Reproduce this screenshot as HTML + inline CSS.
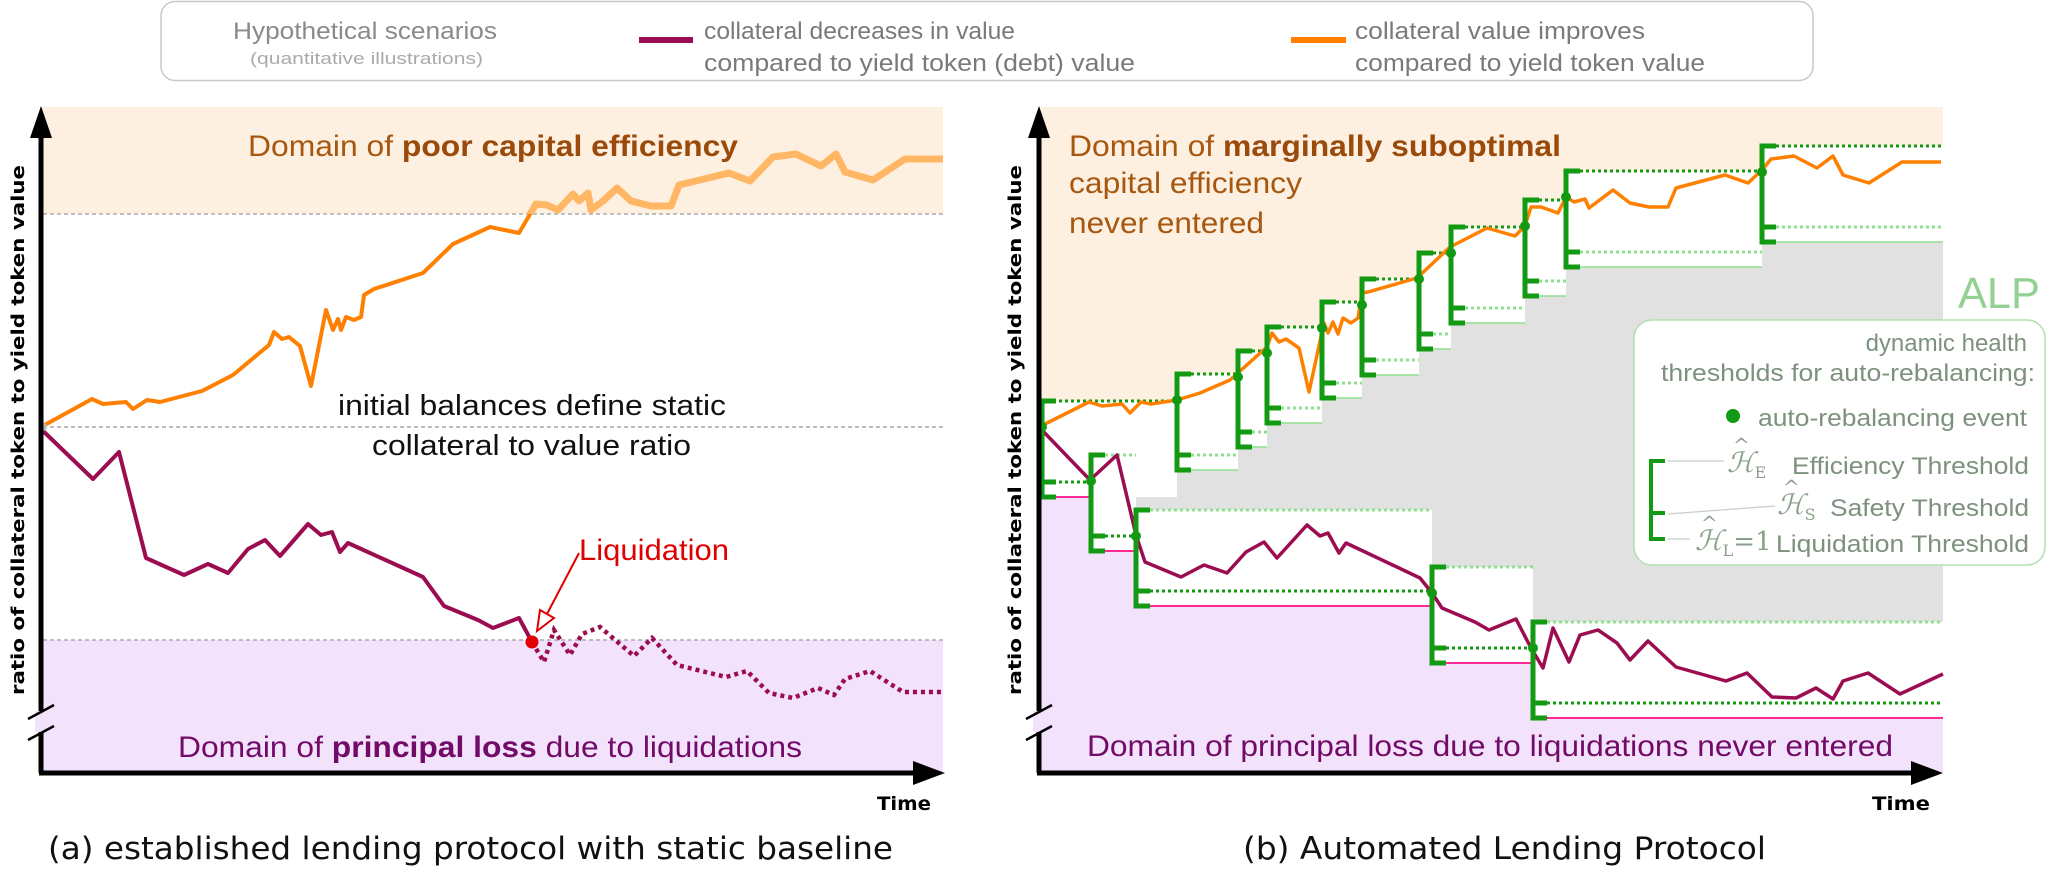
<!DOCTYPE html>
<html>
<head>
<meta charset="utf-8">
<style>
html,body{margin:0;padding:0;background:#fff;}
svg{display:block;}
text{font-family:"Liberation Sans","DejaVu Sans",sans-serif;}
.cap{font-family:"DejaVu Sans","Liberation Sans",sans-serif;}
.ylab{font-family:"DejaVu Sans","Liberation Sans",sans-serif;font-weight:bold;}
.math{font-family:"DejaVu Serif","Liberation Serif",serif;}
</style>
</head>
<body>
<svg id="fig" xmlns="http://www.w3.org/2000/svg" width="2048" height="875" viewBox="0 0 2048 875">
  <g id="layerL"></g>
  <g id="layerR"></g>

  <!-- top legend -->
  <g>
    <rect x="161" y="1.5" width="1652" height="79" rx="14" fill="#fff" stroke="#c8c8c8" stroke-width="1.5"/>
    <text x="233" y="39" font-size="24" fill="#8a8a8a" textLength="264" lengthAdjust="spacingAndGlyphs">Hypothetical scenarios</text>
    <text x="250" y="64" font-size="17" fill="#aaaaaa" textLength="233" lengthAdjust="spacingAndGlyphs">(quantitative illustrations)</text>
    <line x1="639" y1="40" x2="693" y2="40" stroke="#9b0c50" stroke-width="6"/>
    <text x="704" y="39" font-size="24" fill="#7a7a7a" textLength="311" lengthAdjust="spacingAndGlyphs">collateral decreases in value</text>
    <text x="704" y="71" font-size="24" fill="#7a7a7a" textLength="431" lengthAdjust="spacingAndGlyphs">compared to yield token (debt) value</text>
    <line x1="1291" y1="40" x2="1346" y2="40" stroke="#ff8000" stroke-width="6"/>
    <text x="1355" y="39" font-size="24" fill="#7a7a7a" textLength="290" lengthAdjust="spacingAndGlyphs">collateral value improves</text>
    <text x="1355" y="71" font-size="24" fill="#7a7a7a" textLength="350" lengthAdjust="spacingAndGlyphs">compared to yield token value</text>
  </g>

  <!-- captions -->
  <text class="cap" x="48" y="859" font-size="31" fill="#111" textLength="845" lengthAdjust="spacingAndGlyphs">(a) established lending protocol with static baseline</text>
  <text class="cap" x="1243" y="859" font-size="31" fill="#111" textLength="523" lengthAdjust="spacingAndGlyphs">(b) Automated Lending Protocol</text>
</svg>

<script>
// ---------- data ----------
// Panel (a): static baseline
const orangeLeftT = [0,5.1,6.2,8.5,9.2,10.6,11.9,16.1,19.2,22.8,23.3,24.1,24.8,25.9,27.0,28.5,29.2,29.7,30.0,30.5,31.3,32.0,32.3,33.3,38.2,41.2,44.9,47.8,49.5,50.6,51.7,53.2,53.8,54.7,55.0,56.2,57.6,59.0,61.0,63.0,63.8,68.8,70.9,73.2,75.5,78.0,79.5,80.4,83.2,86.4,90.2];
const orangeLeftV = [34.6,37.4,36.9,37.1,36.4,37.3,37.1,38.2,39.8,42.8,44.1,43.4,43.6,42.7,38.7,46.3,44.3,45.4,44.3,45.6,45.3,45.6,47.8,48.4,50.0,52.9,54.6,54.0,56.9,56.8,56.3,57.9,57.2,58.0,56.3,57.2,58.5,57.2,56.7,56.7,58.8,60.0,59.2,61.6,61.9,60.7,61.9,60.1,59.3,61.4,61.4];
const purpleLeftT = [0,5.2,7.8,10.5,14.3,16.7,18.7,20.7,22.4,23.9,26.7,28.0,29.1,29.9,30.7,38.2,40.3,43.7,45.2,47.8,49.1];
const purpleLeftV = [34.4,29.4,32.1,21.5,19.8,20.9,20.0,22.4,23.3,21.7,24.9,23.8,24.1,22.1,23.0,19.6,16.7,15.3,14.5,15.5,13.1];
const purpleLeftDottedT = [49.1,50.3,51.3,52.9,54.1,55.9,59.3,61.1,63.6,68.5,70.6,72.8,75.2,77.7,79.3,80.4,82.9,86.2,90.2];
const purpleLeftDottedV = [13.1,11.1,14.3,11.8,13.9,14.6,11.7,13.5,10.8,9.6,10.2,8.0,7.5,8.5,7.8,9.4,10.2,8.1,8.1];
const staticLevels = [55.9,34.6,13.3]; // efficiency, initial ratio, liquidation

// Panel (b): ALP
const orangeRightT = [0,5.0,6.3,8.3,9.1,10.2,11.2,13.8,16.1,19.1,22.8,23.3,24.0,24.7,26.0,27.0,28.5,28.9,29.4,29.9,30.4,31.2,31.9,32.3,32.9,37.8,41.1,44.8,47.6,48.6,49.2,50.2,51.9,52.7,53.5,54.6,55.0,57.4,59.1,61.0,62.9,63.7,68.6,70.9,72.3,73.2,75.5,77.8,79.4,80.4,83.0,86.3,90.2];
const orangeRightV = [34.6,37.1,36.7,36.9,36.0,37.1,36.9,37.3,38.0,39.3,42.6,44.0,43.1,43.4,42.5,38.1,45.0,44.0,45.1,43.9,45.5,45.0,45.5,48.0,48.1,49.5,52.6,54.5,53.7,54.7,56.6,56.6,56.0,57.6,57.1,57.4,56.5,58.3,57.0,56.6,56.6,58.5,59.8,59.0,60.3,61.4,61.7,60.5,61.7,59.8,59.0,61.1,61.1];
const purpleRightT = [0,5.1,7.8,9.7,10.6,14.2,16.5,18.8,20.7,22.5,23.8,26.8,28.1,28.9,30.0,30.7,38.1,39.3,40.3,43.6,45.0,47.7,49.2,50.4,51.4,53.0,54.1,55.9,57.8,59.1,60.9,63.7,68.7,70.8,73.3,75.7,77.7,79.4,80.4,82.9,86.1,90.4];
const purpleRightV = [34.6,29.3,31.8,23.8,21.1,19.6,20.8,20.0,22.1,23.1,21.5,24.8,23.7,24.0,22.0,23.0,19.5,18.0,16.5,15.1,14.3,15.4,12.5,10.5,14.5,11.1,13.8,14.3,13.0,11.3,13.2,10.6,9.2,10.0,7.6,7.5,8.5,7.4,9.2,10.0,7.9,9.9];
// auto-rebalancing events
const upEventT = [0,13.8,19.9,22.8,28.3,32.3,38.0,41.2,48.6,52.7,72.3];
const upEventV = [34.6,37.3,39.6,42.0,44.5,46.8,49.4,52.0,54.7,57.6,60.1];
const downEventT = [0,5.2,9.7,39.3,49.4];
const downEventV = [34.6,29.2,23.7,18.0,12.5];
const thresholdOffsets = [2.6,-5.5,-7.0]; // efficiency, safety, liquidation relative to event
const timeEnd = 90.4;

// ---------- scales ----------
const NS = "http://www.w3.org/2000/svg";
const PLOT_TOP = 107, PLOT_BOT = 772;
function yS(v){ return 773 - v*10; }
function xL(t){ return 41 + t*10; }
function xR(t){ return 1039 + t*10; }
function pts(T,V,xf){ return T.map((t,i)=>xf(t).toFixed(1)+','+yS(V[i]).toFixed(1)).join(' '); }
function mk(tag, attrs, parent){
  const e = document.createElementNS(NS, tag);
  for (const k in attrs) e.setAttribute(k, attrs[k]);
  parent.appendChild(e);
  return e;
}
const GREEN = "#129a12", LGREEN = "#8fe08f", PINK = "#ff2a96";
const gL = document.getElementById('layerL');
const gR = document.getElementById('layerR');
let el;

// ================= Panel A =================
el = mk('rect',{x:41,y:PLOT_TOP,width:902,height:yS(staticLevels[0])-PLOT_TOP,fill:'#fef0e0'},gL);


el = mk('rect',{x:41,y:yS(staticLevels[2]),width:902,height:PLOT_BOT-yS(staticLevels[2]),fill:'#f3e2fb'},gL);


staticLevels.forEach((lv)=>{
  el = mk('line',{x1:43,x2:943,y1:yS(lv),y2:yS(lv),stroke:'#aaaaaa','stroke-width':1.5,'stroke-dasharray':'4 3'},gL);
  
  
});
// orange line
el = mk('polyline',{points:pts(orangeLeftT,orangeLeftV,xL),fill:'none',stroke:'#ff8000','stroke-width':4,'stroke-linejoin':'round'},gL);


const cp = mk('clipPath',{id:'clipTop'},gL);
mk('rect',{x:41,y:PLOT_TOP,width:902,height:yS(staticLevels[0])-PLOT_TOP},cp);
el = mk('polyline',{points:pts(orangeLeftT,orangeLeftV,xL),fill:'none',stroke:'#ffb766','stroke-width':7,'stroke-linejoin':'round','clip-path':'url(#clipTop)'},gL);


// purple line
el = mk('polyline',{points:pts(purpleLeftT,purpleLeftV,xL),fill:'none',stroke:'#9b0c50','stroke-width':4,'stroke-linejoin':'round'},gL);


el = mk('polyline',{points:pts(purpleLeftDottedT,purpleLeftDottedV,xL),fill:'none',stroke:'#9b0c50','stroke-width':4.5,'stroke-dasharray':'4 4'},gL);


el = mk('circle',{cx:xL(0)+2,cy:yS(34.6),r:4,fill:'#bbbbbb'},gL);


// liquidation
const liqX = xL(purpleLeftDottedT[0]), liqY = yS(purpleLeftDottedV[0]);
el = mk('circle',{cx:liqX,cy:liqY,r:6.5,fill:'#e00000'},gL);


el = mk('line',{x1:liqX+47,y1:liqY-89,x2:liqX+15,y2:liqY-28,stroke:'#e00000','stroke-width':2},gL);


el = mk('polygon',{points:(liqX+5)+','+(liqY-11)+' '+(liqX+8)+','+(liqY-32)+' '+(liqX+22)+','+(liqY-24),fill:'#fff',stroke:'#e00000','stroke-width':2},gL);



// ================= Panel B =================
el = mk('rect',{x:1041,y:PLOT_TOP,width:902,height:PLOT_BOT-PLOT_TOP,fill:'#e1e1e1'},gR);


const E = thresholdOffsets[0], S = thresholdOffsets[1], L = thresholdOffsets[2];
function nextT(T,i){ return i+1<T.length ? T[i+1] : timeEnd; }
// peach above up-track efficiency thresholds
upEventT.forEach((t,i)=>{
  const x1 = Math.max(xR(t),1041), x2 = xR(nextT(upEventT,i));
  el = mk('rect',{x:x1,y:PLOT_TOP,width:x2-x1,height:yS(upEventV[i]+E)-PLOT_TOP,fill:'#fef0e0'},gR);
  
  
});
downEventT.forEach((t,i)=>{
  const x1 = Math.max(xR(t),1041), x2 = xR(nextT(downEventT,i));
  el = mk('rect',{x:x1,y:yS(downEventV[i]+L),width:x2-x1,height:PLOT_BOT-yS(downEventV[i]+L),fill:'#f3e2fb'},gR);
  
  
});
[[upEventT,upEventV],[downEventT,downEventV]].forEach(([T,V])=>{
  T.forEach((t,i)=>{
    const x1 = Math.max(xR(t),1041), x2 = xR(nextT(T,i));
    el = mk('rect',{x:x1,y:yS(V[i]+E),width:x2-x1,height:yS(V[i]+L)-yS(V[i]+E),fill:'#ffffff'},gR);
    
    
  });
});
function hline(x1,x2,y,color,dotted,w){
  const a = {x1:x1,x2:x2,y1:y,y2:y,stroke:color,'stroke-width':w};
  if (dotted) a['stroke-dasharray'] = '3 3';
  return mk('line',a,gR);
}
// threshold lines
upEventT.forEach((t,i)=>{
  const x = xR(t)+14, x2 = xR(nextT(upEventT,i)), v = upEventV[i];
  el = hline(x,x2,yS(v+E),GREEN,true,3);
  
  
  if (i>0){
    el = hline(x,x2,yS(v+S),LGREEN,true,3);
    
    
    el = hline(x,x2,yS(v+L),LGREEN,false,1.5);
    
    
  }
});
downEventT.forEach((t,i)=>{
  const x = xR(t)+14, x2 = xR(nextT(downEventT,i)), v = downEventV[i];
  if (i>0){
    el = hline(x,x2,yS(v+E),LGREEN,true,3);
    
    
  }
  el = hline(x,x2,yS(v+S),GREEN,true,3);
  
  
  el = hline(x,x2,yS(v+L),PINK,false,2);
  
  
});
// series lines
el = mk('polyline',{points:pts(orangeRightT,orangeRightV,xR),fill:'none',stroke:'#ff8000','stroke-width':3.5,'stroke-linejoin':'round'},gR);


el = mk('polyline',{points:pts(purpleRightT,purpleRightV,xR),fill:'none',stroke:'#9b0c50','stroke-width':3.5,'stroke-linejoin':'round'},gR);


// brackets + event dots
function bracket(t,v){
  const x = Math.max(xR(t),1042), ye = yS(v+E), ys = yS(v+S), yl = yS(v+L);
  const d = 'M'+(x+14)+','+ye+' H'+x+' V'+yl+' H'+(x+14)+' M'+x+','+ys+' H'+(x+14);
  el = mk('path',{d:d,fill:'none',stroke:GREEN,'stroke-width':5},gR);
  
  
  el = mk('circle',{cx:x,cy:yS(v),r:5,fill:GREEN},gR);
  
  
}
upEventT.forEach((t,i)=>bracket(t,upEventV[i]));
downEventT.forEach((t,i)=>{ if(i>0) bracket(t,downEventV[i]); });

// ================= Axes & static text (appended after marks) =================
const fig = document.getElementById('fig');
function axes(x0, name){
  const g = mk('g',{},fig);
  
  
  el = mk('line',{x1:x0,y1:PLOT_BOT+1,x2:x0,y2:132,stroke:'#000','stroke-width':5},g);
  
  
  el = mk('polygon',{points:(x0-11)+',138 '+x0+',106 '+(x0+11)+',138',fill:'#000'},g);
  
  
  el = mk('line',{x1:x0-2,y1:PLOT_BOT+1,x2:x0+875,y2:PLOT_BOT+1,stroke:'#000','stroke-width':5},g);
  
  
  el = mk('polygon',{points:(x0+872)+','+(PLOT_BOT-11)+' '+(x0+904)+','+(PLOT_BOT+1)+' '+(x0+872)+','+(PLOT_BOT+13),fill:'#000'},g);
  
  
  el = mk('polygon',{points:(x0-6)+',711 '+(x0+6)+',711 '+(x0+6)+',732 '+(x0-6)+',732',fill:'#f3e2fb'},g);
  
  
  el = mk('path',{d:'M'+(x0-13)+','+719+' L'+(x0+13)+','+705+' M'+(x0-13)+','+740+' L'+(x0+13)+','+726,stroke:'#000','stroke-width':2.5,fill:'none'},g);
  
  
}
axes(41,'axes-a');
axes(1039,'axes-b');
</script>

<svg width="0" height="0" style="position:absolute"></svg>
<script>
// static text overlay appended to figure (after marks so it sits on top)
(function(){
  const fig = document.getElementById('fig');
  const markup = `
  <g>
    <text class="ylab" transform="translate(24,430) rotate(-90)" text-anchor="middle" font-size="18" fill="#000" textLength="530" lengthAdjust="spacingAndGlyphs">ratio of collateral token to yield token value</text>
    <text x="248" y="156" font-size="30" fill="#a65710" textLength="490" lengthAdjust="spacingAndGlyphs">Domain of <tspan font-weight="bold" fill="#9a4a0a">poor capital efficiency</tspan></text>
    <text x="338" y="415" font-size="29" fill="#111" textLength="388" lengthAdjust="spacingAndGlyphs">initial balances define static</text>
    <text x="372" y="455" font-size="29" fill="#111" textLength="319" lengthAdjust="spacingAndGlyphs">collateral to value ratio</text>
    <text x="579" y="560" font-size="30" fill="#e00000" textLength="150" lengthAdjust="spacingAndGlyphs">Liquidation</text>
    <text x="178" y="757" font-size="30" fill="#720a68" textLength="624" lengthAdjust="spacingAndGlyphs">Domain of <tspan font-weight="bold">principal loss</tspan> due to liquidations</text>
    <text class="ylab" x="877" y="810" font-size="19" fill="#000" textLength="54" lengthAdjust="spacingAndGlyphs">Time</text>
  </g>
  <g>
    <text class="ylab" transform="translate(1021,430) rotate(-90)" text-anchor="middle" font-size="18" fill="#000" textLength="530" lengthAdjust="spacingAndGlyphs">ratio of collateral token to yield token value</text>
    <text x="1069" y="156" font-size="30" fill="#a65710" textLength="492" lengthAdjust="spacingAndGlyphs">Domain of <tspan font-weight="bold" fill="#9a4a0a">marginally suboptimal</tspan></text>
    <text x="1069" y="193" font-size="30" fill="#a65710" textLength="233" lengthAdjust="spacingAndGlyphs">capital efficiency</text>
    <text x="1069" y="233" font-size="30" fill="#a65710" textLength="195" lengthAdjust="spacingAndGlyphs">never entered</text>
    <text x="1087" y="756" font-size="30" fill="#720a68" textLength="806" lengthAdjust="spacingAndGlyphs">Domain of principal loss due to liquidations never entered</text>
    <text class="ylab" x="1872" y="810" font-size="19" fill="#000" textLength="58" lengthAdjust="spacingAndGlyphs">Time</text>
    <text x="1958" y="308" font-size="44" fill="#93d193" textLength="82" lengthAdjust="spacingAndGlyphs">ALP</text>
    <g>
      <rect x="1634" y="320" width="411" height="245" rx="18" fill="#fff" stroke="#b3ddb3" stroke-width="1.5"/>
      <text x="2027" y="351" font-size="24" fill="#7d917d" text-anchor="end">dynamic health</text>
      <text x="1661" y="381" font-size="24" fill="#7d917d" textLength="374" lengthAdjust="spacingAndGlyphs">thresholds for auto-rebalancing:</text>
      <circle cx="1733" cy="416" r="7" fill="#129a12"/>
      <text x="1758" y="426" font-size="24" fill="#7d917d" textLength="269" lengthAdjust="spacingAndGlyphs">auto-rebalancing event</text>
      <path d="M1665,461 H1651 V539 H1665 M1651,513 H1665" fill="none" stroke="#129a12" stroke-width="4"/>
      <path d="M1668,461 H1724 M1668,514 L1775,506 M1668,539 H1690" stroke="#c5cfc5" stroke-width="1.2" fill="none"/>
      <text class="math" x="1727" y="472" font-size="28" font-style="italic" fill="#8aa08a">ℋ<tspan font-size="16" font-style="normal" dy="6">E</tspan></text>
      <text class="math" x="1733" y="452" font-size="20" fill="#8aa08a">^</text>
      <text x="1792" y="474" font-size="24" fill="#7d917d" textLength="237" lengthAdjust="spacingAndGlyphs">Efficiency Threshold</text>
      <text class="math" x="1777" y="514" font-size="28" font-style="italic" fill="#8aa08a">ℋ<tspan font-size="16" font-style="normal" dy="6">S</tspan></text>
      <text class="math" x="1783" y="494" font-size="20" fill="#8aa08a">^</text>
      <text x="1830" y="516" font-size="24" fill="#7d917d" textLength="199" lengthAdjust="spacingAndGlyphs">Safety Threshold</text>
      <text class="math" x="1695" y="550" font-size="28" font-style="italic" fill="#8aa08a">ℋ<tspan font-size="16" font-style="normal" dy="6">L</tspan><tspan font-style="normal" font-size="26" dy="-6">=1</tspan></text>
      <text class="math" x="1701" y="530" font-size="20" fill="#8aa08a">^</text>
      <text x="1776" y="552" font-size="24" fill="#7d917d" textLength="253" lengthAdjust="spacingAndGlyphs">Liquidation Threshold</text>
    </g>
  </g>`;
  const tmp = document.createElementNS("http://www.w3.org/2000/svg","g");
  tmp.innerHTML = markup;
  while (tmp.firstElementChild) fig.appendChild(tmp.firstElementChild);
})();
</script>
</body>
</html>
